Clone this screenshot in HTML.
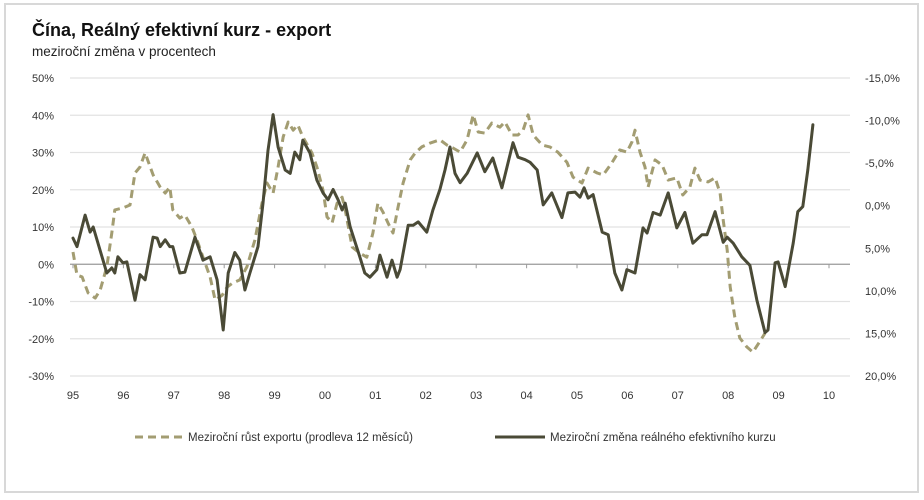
<!DOCTYPE html>
<html><head><meta charset="utf-8"><style>
html,body{margin:0;padding:0;background:#fff;}
svg{display:block;font-family:"Liberation Sans",sans-serif;}
</style></head><body>
<svg id="chart" width="924" height="500" viewBox="0 0 924 500">
<rect x="5" y="4" width="913" height="488" fill="#fff" stroke="#d8d8d8" stroke-width="2"/>
<text x="32" y="36" font-size="18" font-weight="bold" fill="#111">Čína, Reálný efektivní kurz - export</text>
<text x="32" y="56" font-size="13.5" fill="#222">meziroční změna v procentech</text>
<g id="grid"></g>
<g id="axes"></g>
<g id="series"></g>
<g>
<g>
<line x1="135" y1="437" x2="182" y2="437" stroke="#a39d72" stroke-width="3" stroke-dasharray="8,5"/>
<text x="188" y="441" font-size="11.5" fill="#333">Meziroční růst exportu (prodleva 12 měsíců)</text>
</g>
<g>
<line x1="495" y1="437" x2="545" y2="437" stroke="#4a4a36" stroke-width="3"/>
<text x="550" y="441" font-size="11.5" fill="#333">Meziroční změna reálného efektivního kurzu</text>
</g>
</g>
</svg>
<script>
const leftTicks=[50,40,30,20,10,0,-10,-20,-30];
const rightTicks=[-15,-10,-5,0,5,10,15,20];
const yearLabels=["95","96","97","98","99","00","01","02","03","04","05","06","07","08","09","10"];
const yearStart=1995;
const exportT=[1995.0,1995.08,1995.18,1995.3,1995.44,1995.54,1995.67,1995.77,1995.83,1995.99,1996.13,1996.23,1996.33,1996.43,1996.59,1996.73,1996.83,1996.92,1996.98,1997.12,1997.22,1997.36,1997.46,1997.58,1997.72,1997.82,1997.96,1998.06,1998.17,1998.31,1998.45,1998.61,1998.75,1998.85,1998.97,1999.07,1999.17,1999.27,1999.37,1999.46,1999.56,1999.74,1999.84,1999.96,2000.04,2000.14,2000.24,2000.34,2000.4,2000.54,2000.69,2000.83,2000.95,2001.05,2001.15,2001.25,2001.35,2001.45,2001.55,2001.69,2001.79,2001.92,2002.08,2002.28,2002.42,2002.54,2002.68,2002.82,2002.94,2003.04,2003.17,2003.31,2003.47,2003.57,2003.71,2003.83,2003.93,2004.03,2004.13,2004.31,2004.46,2004.62,2004.8,2004.92,2005.1,2005.22,2005.4,2005.52,2005.69,2005.85,2005.99,2006.09,2006.15,2006.25,2006.35,2006.41,2006.55,2006.69,2006.81,2006.98,2007.1,2007.24,2007.34,2007.44,2007.6,2007.74,2007.84,2007.9,2007.98,2008.04,2008.13,2008.23,2008.37,2008.49,2008.67,2008.73];
const exportV=[3.3,-2.9,-3.4,-7.7,-9.1,-6.9,-0.7,8.4,14.6,15.1,15.9,24.5,26.1,29.9,24.0,20.7,19.1,20.7,14.6,12.4,13.2,10.0,6.5,1.9,-3.4,-9.6,-8.3,-6.1,-5.0,-4.2,-0.7,6.5,16.4,21.8,19.1,26.1,34.2,38.2,36.0,37.4,34.2,29.9,26.1,19.9,12.7,11.1,16.4,18.0,14.6,4.6,3.0,1.9,8.4,16.4,14.0,11.1,8.4,15.4,21.8,28.0,29.9,31.5,32.5,33.4,32.0,31.2,30.1,33.4,40.1,35.5,35.2,37.9,36.8,38.2,34.7,34.7,36.0,40.1,34.7,32.0,31.5,30.1,27.4,23.4,21.8,25.8,24.5,24.0,27.2,30.7,30.1,32.8,36.0,30.1,26.1,20.7,28.0,26.6,22.6,23.2,18.6,20.7,25.8,22.6,22.1,23.2,19.1,11.9,3.8,-6.1,-14.2,-19.8,-22.2,-23.6,-19.8,-18.5];
const reerT=[1995.0,1995.08,1995.24,1995.34,1995.4,1995.67,1995.77,1995.83,1995.89,1995.99,1996.07,1996.23,1996.33,1996.43,1996.59,1996.67,1996.73,1996.83,1996.92,1996.98,1997.12,1997.22,1997.42,1997.58,1997.72,1997.86,1997.98,1998.08,1998.21,1998.31,1998.41,1998.51,1998.67,1998.77,1998.87,1998.97,1999.07,1999.21,1999.31,1999.4,1999.5,1999.56,1999.7,1999.84,1999.96,2000.06,2000.16,2000.26,2000.34,2000.4,2000.5,2000.69,2000.79,2000.89,2001.03,2001.09,2001.23,2001.33,2001.43,2001.49,2001.65,2001.75,2001.85,2002.02,2002.14,2002.28,2002.38,2002.48,2002.58,2002.68,2002.82,2003.02,2003.17,2003.33,2003.51,2003.73,2003.83,2003.97,2004.07,2004.21,2004.33,2004.5,2004.7,2004.82,2004.96,2005.06,2005.14,2005.22,2005.32,2005.5,2005.62,2005.75,2005.89,2005.99,2006.15,2006.31,2006.39,2006.51,2006.65,2006.81,2006.98,2007.14,2007.3,2007.48,2007.58,2007.74,2007.9,2007.98,2008.1,2008.27,2008.43,2008.57,2008.73,2008.79,2008.93,2008.99,2009.13,2009.29,2009.38,2009.48,2009.58,2009.68];
const reerV=[3.8,4.8,1.1,3.1,2.5,7.9,7.3,7.9,6.0,6.7,6.6,11.1,8.1,8.7,3.7,3.8,4.8,4.0,4.8,4.8,7.9,7.8,3.7,6.4,6.0,8.7,14.6,7.9,5.5,6.4,9.9,7.9,4.8,-0.3,-6.5,-10.7,-6.9,-4.2,-3.8,-6.3,-5.4,-7.7,-6.2,-3.0,-1.5,-0.7,-1.9,-0.7,0.5,-0.3,2.5,6.0,7.9,8.4,7.5,5.8,8.4,6.4,8.4,7.5,2.3,2.3,1.9,3.1,0.5,-1.9,-4.2,-6.9,-3.8,-2.7,-3.8,-6.2,-4.0,-5.6,-2.1,-7.4,-5.7,-5.4,-5.1,-4.2,-0.1,-1.5,1.4,-1.5,-1.6,-1.0,-2.1,-0.9,-1.3,3.1,3.4,7.9,9.9,7.5,7.9,2.6,3.2,0.8,1.1,-1.5,2.6,0.8,4.4,3.4,3.4,0.7,4.3,3.7,4.4,6.0,7.0,11.1,14.9,14.6,6.7,6.6,9.5,4.4,0.7,0.1,-4.2,-9.5];

const NS="http://www.w3.org/2000/svg";
const X0=73, PX_YEAR=50.4, XR=850;
const YT=78, YB=376;
function xAt(t){return X0+(t-yearStart)*PX_YEAR;}
function yLeft(v){return YT+(50-v)/80*(YB-YT);}
function yRight(v){return YT+(v+15)/35*(YB-YT);}
function mk(tag,attrs,parent){const e=document.createElementNS(NS,tag);for(const k in attrs)e.setAttribute(k,attrs[k]);parent.appendChild(e);return e;}
const grid=document.getElementById('grid'),axes=document.getElementById('axes'),series=document.getElementById('series');
leftTicks.forEach(v=>{
  const y=yLeft(v);
  const l=mk('line',{x1:70,x2:XR,y1:y,y2:y,stroke:v===0?'#9a9a9a':'#e2e2e2','stroke-width':v===0?1.3:1.3},grid);
  
  
  const t=mk('text',{x:54,y:y+4,'text-anchor':'end','font-size':11,fill:'#333'},axes);
  t.textContent=v+'%';
  
  
});
rightTicks.forEach(v=>{
  const y=yRight(v);
  const t=mk('text',{x:865,y:y+4,'font-size':11,fill:'#333'},axes);
  t.textContent=v.toFixed(1).replace('.',',')+'%';
  
  
});
yearLabels.forEach((lab,i)=>{
  const x=xAt(yearStart+i);
  const tk=mk('line',{x1:x,x2:x,y1:yLeft(0),y2:yLeft(0)+4,stroke:'#9a9a9a','stroke-width':1},axes);
  
  
  const t=mk('text',{x:x,y:399,'text-anchor':'middle','font-size':11,fill:'#333'},axes);
  t.textContent=lab;
  
  
});
function pts(T,V,f){return T.map((t,i)=>xAt(t).toFixed(1)+','+f(V[i]).toFixed(1)).join(' ');}
const pe=mk('polyline',{points:pts(exportT,exportV,yLeft),fill:'none',stroke:'#a39d72','stroke-width':3,'stroke-dasharray':'8,5','stroke-linejoin':'round'},series);


const pr=mk('polyline',{points:pts(reerT,reerV,yRight),fill:'none',stroke:'#4a4a36','stroke-width':3,'stroke-linejoin':'round','stroke-linecap':'round'},series);


</script>
</body></html>
